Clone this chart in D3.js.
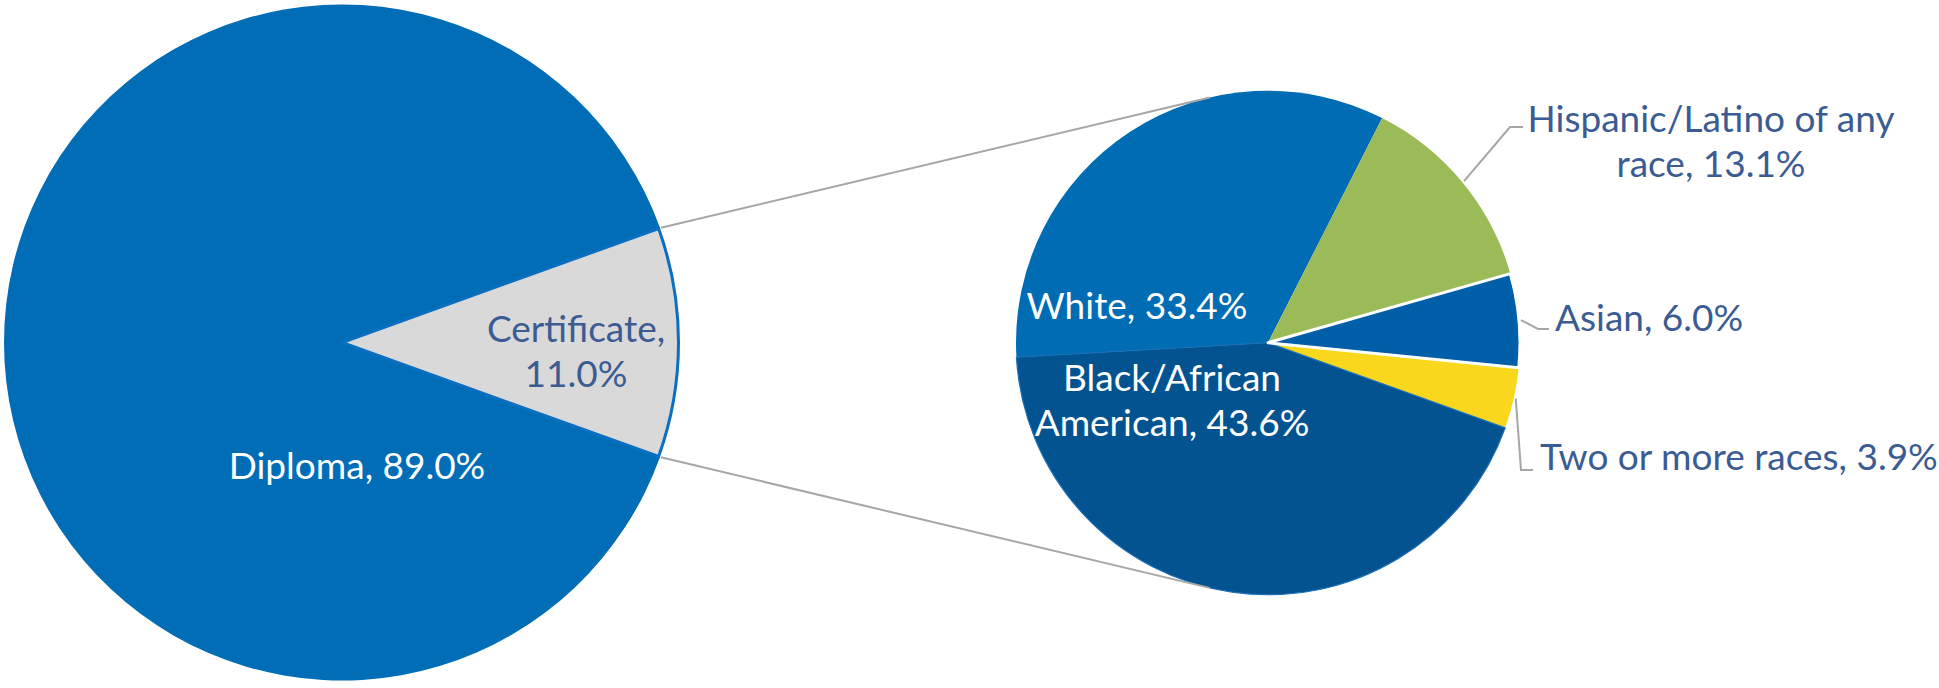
<!DOCTYPE html>
<html>
<head>
<meta charset="utf-8">
<script src="https://cdn.jsdelivr.net/npm/d3@7"></script>
<style>
  html, body { margin: 0; padding: 0; background: #ffffff; }
  svg { display: block; }
  text { font-family: Lato, "Open Sans", sans-serif; }
</style>
</head>
<body>
<svg id="chart" width="1939" height="688"></svg>
<script>
// ---- Data ----
const mainCategories = ["Certificate", "Diploma"];
const mainValues = [11.0, 89.0];
const subCategories = ["White", "Hispanic/Latino of any race", "Asian", "Two or more races", "Black/African American"];
const subValues = [33.4, 13.1, 6.0, 3.9, 43.6];

// ---- Layout / style ----
const W = 1939, H = 688;
const main = { cx: 342, cy: 342.5, r: 338 };
const sub = { cx: 1268, cy: 342.7, r: 252 };
const deg = Math.PI / 180;
const mainColors = { "Certificate": "#D9D9D9", "Diploma": "#006DB6" };
const subColors = {
  "White": "#006CB3",
  "Hispanic/Latino of any race": "#9BBB59",
  "Asian": "#005FA8",
  "Two or more races": "#F9D71C",
  "Black/African American": "#035391"
};
const labelColor = "#3B5C92";
const leaderColor = "#A6A6A6";
const fontSize = 37, lineH = 45;

const svg = d3.select("#chart");

// ---- Main pie ----
const certShare = mainValues[0] / d3.sum(mainValues) * 2 * Math.PI;
const mainPie = d3.pie().sort(null).value(d => d.v)
  .startAngle(Math.PI / 2 - certShare / 2)
  .endAngle(Math.PI / 2 - certShare / 2 + 2 * Math.PI);
const mainData = mainPie(mainCategories.map((c, i) => ({ c, v: mainValues[i] })));
const mainArc = d3.arc().innerRadius(0).outerRadius(main.r);

const gMain = svg.append("g").attr("transform", `translate(${main.cx},${main.cy})`);
const orderMain = mainData.slice().sort((a, b) => (a.data.c === "Certificate") - (b.data.c === "Certificate"));
gMain.selectAll("path").data(orderMain).join("path")
  .attr("d", d => d.data.c === "Certificate" ? d3.arc().innerRadius(0).outerRadius(main.r - 1.5)(d) : mainArc(d))
  .attr("fill", d => mainColors[d.data.c])
  .attr("stroke", d => d.data.c === "Certificate" ? "#0A6FC0" : "none")
  .attr("stroke-width", 3)
  .attr("stroke-linejoin", "miter");

// ---- Sub pie ----
const subPie = d3.pie().sort(null).value(d => d.v)
  .startAngle(-93.3 * deg).endAngle(-93.3 * deg + 2 * Math.PI);
const subData = subPie(subCategories.map((c, i) => ({ c, v: subValues[i] })));
const subArc = d3.arc().innerRadius(0).outerRadius(sub.r);
const gSub = svg.append("g").attr("transform", `translate(${sub.cx},${sub.cy})`);
gSub.selectAll("path.slice").data(subData).join("path")
  .attr("class", "slice")
  .attr("d", subArc)
  .attr("fill", d => subColors[d.data.c])
  .attr("stroke", d => d.data.c === "Black/African American" ? "#1A70B8" : "none")
  .attr("stroke-width", 1.2);
// white borders for the Asian slice
gSub.append("path")
  .attr("d", subArc(subData[2]))
  .attr("fill", "none")
  .attr("stroke", "#ffffff")
  .attr("stroke-width", 3)
  .attr("stroke-linejoin", "round");
gSub.append("path")
  .attr("d", d3.arc().innerRadius(sub.r - 1).outerRadius(sub.r + 3)(subData[2]))
  .attr("fill", "#ffffff");

// ---- Connector lines (main slice edges to tangent points of sub pie) ----
function pointOn(c, r, a) { return [c.cx + r * Math.sin(a), c.cy - r * Math.cos(a)]; }
function tangentPoint(P, c, upper) {
  const dx = P[0] - c.cx, dy = P[1] - c.cy;
  const d = Math.hypot(dx, dy);
  const base = Math.atan2(dy, dx);
  const off = Math.acos(c.r / d);
  const ang = upper ? base + off : base - off;
  return [c.cx + c.r * Math.cos(ang), c.cy + c.r * Math.sin(ang)];
}
const certD = mainData[0];
const pUp = pointOn(main, main.r + 1, certD.startAngle);
const pDn = pointOn(main, main.r + 1, certD.endAngle);
const tUp = tangentPoint(pUp, sub, true);
const tDn = tangentPoint(pDn, sub, false);
svg.append("line").attr("x1", pUp[0]).attr("y1", pUp[1]).attr("x2", tUp[0]).attr("y2", tUp[1])
  .attr("stroke", leaderColor).attr("stroke-width", 2);
svg.append("line").attr("x1", pDn[0]).attr("y1", pDn[1]).attr("x2", tDn[0]).attr("y2", tDn[1])
  .attr("stroke", leaderColor).attr("stroke-width", 2);

// ---- Labels ----
function multiText(x, y, lines, color, anchor) {
  const t = svg.append("text").attr("x", x).attr("y", y)
    .attr("fill", color).attr("font-size", fontSize).attr("text-anchor", anchor || "middle");
  lines.forEach((l, i) => t.append("tspan").attr("x", x).attr("y", y + i * lineH).text(l));
  return t;
}
const fmt = v => v.toFixed(1) + "%";
multiText(576, 342, [mainCategories[0] + ",", fmt(mainValues[0])], labelColor);
multiText(357, 479, [mainCategories[1] + ", " + fmt(mainValues[1])], "#ffffff");

multiText(1137, 319, [subCategories[0] + ", " + fmt(subValues[0])], "#ffffff");
multiText(1172, 391, ["Black/African", "American, " + fmt(subValues[4])], "#ffffff");

multiText(1711, 132, ["Hispanic/Latino of any", "race, " + fmt(subValues[1])], labelColor);
multiText(1555, 331, [subCategories[2] + ", " + fmt(subValues[2])], labelColor, "start");
multiText(1540, 470, [subCategories[3] + ", " + fmt(subValues[3])], labelColor, "start");

// ---- Leader lines ----
function leader(d, elbow, end) {
  const a = (d.startAngle + d.endAngle) / 2;
  const s = pointOn(sub, sub.r + 2, a);
  svg.append("polyline")
    .attr("points", [s, elbow, end].map(p => p.join(",")).join(" "))
    .attr("fill", "none").attr("stroke", leaderColor).attr("stroke-width", 2);
}
leader(subData[1], [1510, 127], [1523, 127]);
leader(subData[2], [1538, 329], [1549, 329]);
leader(subData[3], [1521, 470], [1533, 470]);
</script>
</body>
</html>
